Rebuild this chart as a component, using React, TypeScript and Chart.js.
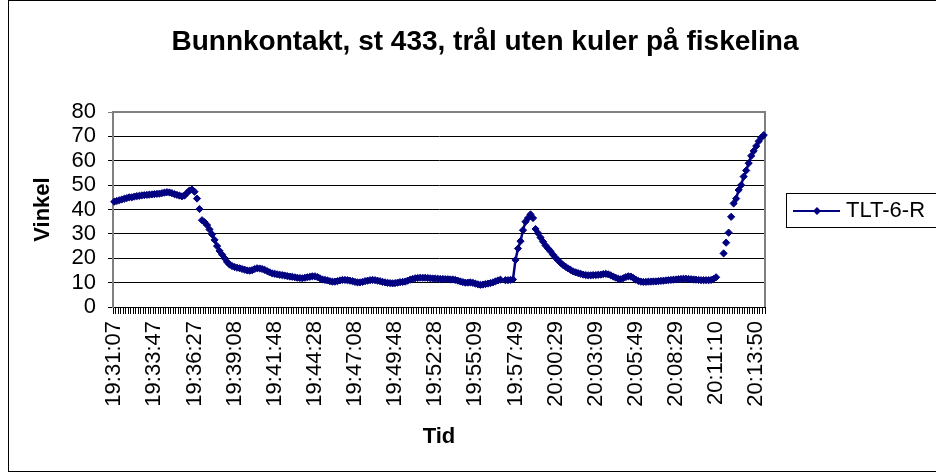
import React, { useEffect, useRef } from "react";
import { Chart, registerables } from "chart.js";

Chart.register(...registerables);

const TITLE = "Bunnkontakt, st 433, trål uten kuler på fiskelina";
const SERIES_NAME = "TLT-6-R";
const X_TITLE = "Tid";
const Y_TITLE = "Vinkel";

const tickLabels = [
  "19:31:07", "19:33:47", "19:36:27", "19:39:08", "19:41:48", "19:44:28",
  "19:47:08", "19:49:48", "19:52:28", "19:55:09", "19:57:49", "20:00:29",
  "20:03:09", "20:05:49", "20:08:29", "20:11:10", "20:13:50",
];
const LABEL_EVERY = 16;

const values: (number | null)[] = [
  43.2, 43.5, 43.8, 44.1, 44.4, 44.7, 45.0, 45.0, 45.3, 45.5,
  45.6, 45.8, 45.9, 46.0, 46.1, 46.2, 46.3, 46.4, 46.5, 46.7,
  46.9, 47.1, 47.0, 46.7, 46.3, 46.0, 45.7, 45.4, 45.7, 46.8,
  47.8, 48.2, 47.3, 44.5, 40.2, 35.6, 34.8, 33.6, 31.8, 29.8,
  27.5, 25.0, 23.0, 21.5, 20.0, 18.5, 17.4, 16.8, 16.4, 16.1,
  15.9, 15.6, 15.3, 15.0, 14.9, 15.1, 15.6, 15.9, 15.8, 15.6,
  15.2, 14.7, 14.2, 13.8, 13.6, 13.4, 13.2, 13.1, 12.9, 12.7,
  12.5, 12.4, 12.2, 12.0, 11.9, 11.8, 12.0, 12.2, 12.4, 12.6,
  12.6, 12.3, 11.8, 11.3, 11.1, 10.9, 10.6, 10.4, 10.4, 10.6,
  10.9, 11.1, 11.1, 11.0, 10.8, 10.6, 10.3, 10.1, 10.1, 10.3,
  10.6, 10.8, 11.0, 11.1, 11.0, 10.8, 10.6, 10.3, 10.1, 9.9,
  9.8, 9.7, 9.8, 10.0, 10.2, 10.3, 10.4, 10.8, 11.2, 11.5,
  11.8, 11.9, 12.0, 12.0, 12.0, 11.9, 11.8, 11.7, 11.7, 11.6,
  11.5, 11.5, 11.4, 11.4, 11.3, 11.3, 11.1, 10.8, 10.5, 10.2,
  10.0, 10.0, 10.1, 9.9, 9.6, 9.3, 9.1, 9.2, 9.4, 9.6,
  9.8, 10.1, 10.5, 10.9, 11.2, null, 11.0, 11.0, 11.1, 11.3,
  19.3, 24.0, 27.0, 31.5, 35.0, 36.5, 38.0, 36.5, 32.0, 30.3,
  28.5, 26.8, 25.2, 24.0, 22.8, 21.4, 20.2, 19.1, 18.1, 17.2,
  16.5, 15.8, 15.2, 14.6, 14.2, 13.9, 13.6, 13.3, 13.1, 13.0,
  13.0, 13.1, 13.1, 13.2, 13.3, 13.5, 13.6, 13.4, 13.0, 12.5,
  12.0, 11.6, 11.4, 11.8, 12.3, 12.6, 12.5, 11.9, 11.2, 10.7,
  10.4, 10.3, 10.3, 10.4, 10.4, 10.5, 10.5, 10.6, 10.7, 10.8,
  10.9, 11.0, 11.1, 11.2, 11.3, 11.4, 11.5, 11.6, 11.6, 11.5,
  11.4, 11.3, 11.2, 11.1, 11.0, 11.0, 11.0, 11.0, 11.1, 11.5,
  12.2, null, null, 22.0, 26.4, 30.5, 37.0, 42.5, 44.5, 48.0,
  50.0, 53.5, 56.0, 59.0, 62.0, 64.0, 66.0, 68.0, 69.5, 70.5,
];

// indices i where the segment i -> i+1 is not drawn (isolated markers)
const brokenAfter = [32, 33, 34, 167, 168, 243, 244, 245, 246];

const Y_MIN = 0;
const Y_MAX = 80;
const Y_STEP = 10;

const categories = values.map((_, i) =>
  i % LABEL_EVERY === 0 && tickLabels[i / LABEL_EVERY] ? tickLabels[i / LABEL_EVERY] : ""
);

const NAVY = "#000080";
const FONT = "'Liberation Sans', Arial, sans-serif";

export default function App() {
  const ref = useRef<HTMLCanvasElement | null>(null);

  useEffect(() => {
    if (!ref.current) return;
    const decor = {
      id: "decor",
      beforeDatasetsDraw(chart: any) {
        const { ctx, chartArea: a } = chart;
        ctx.save();
        ctx.strokeStyle = "#808080";
        ctx.lineWidth = 2;
        ctx.beginPath();
        ctx.moveTo(a.left, a.top);
        ctx.lineTo(a.right, a.top);
        ctx.lineTo(a.right, a.bottom);
        ctx.stroke();
        ctx.restore();
      },
      afterDraw(chart: any) {
        const { ctx } = chart;
        ctx.save();
        // outer chart border
        ctx.strokeStyle = "#000";
        ctx.lineWidth = 1;
        ctx.strokeRect(8.5, 0.5, 940, 471);
        // title
        ctx.fillStyle = "#000";
        ctx.font = `bold 28px ${FONT}`;
        ctx.textAlign = "center";
        ctx.textBaseline = "middle";
        ctx.fillText(TITLE, 485, 42);
        // legend
        ctx.strokeRect(786.5, 193.5, 160, 34);
        ctx.strokeStyle = NAVY;
        ctx.lineWidth = 2;
        ctx.beginPath();
        ctx.moveTo(793, 211);
        ctx.lineTo(840, 211);
        ctx.stroke();
        ctx.fillStyle = NAVY;
        ctx.beginPath();
        ctx.moveTo(817, 207);
        ctx.lineTo(821, 211);
        ctx.lineTo(817, 215);
        ctx.lineTo(813, 211);
        ctx.closePath();
        ctx.fill();
        ctx.fillStyle = "#000";
        ctx.font = `22px ${FONT}`;
        ctx.textAlign = "left";
        ctx.fillText(SERIES_NAME, 846, 211);
        ctx.restore();
      },
    };

    const chart = new Chart(ref.current, {
      type: "line",
      data: {
        labels: categories,
        datasets: [
          {
            label: SERIES_NAME,
            data: values,
            borderColor: NAVY,
            backgroundColor: NAVY,
            borderWidth: 2.5,
            pointStyle: "rectRot",
            pointRadius: 3.6,
            pointBorderWidth: 1,
            pointBackgroundColor: NAVY,
            pointBorderColor: NAVY,
            tension: 0,
            spanGaps: false,
            segment: {
              borderColor: (c: any) =>
                brokenAfter.includes(c.p0DataIndex) ? "rgba(0,0,0,0)" : NAVY,
            },
          },
        ],
      },
      options: {
        responsive: false,
        animation: false,
        layout: { padding: { left: 0, right: 171, top: 112, bottom: 0 } },
        plugins: {
          legend: { display: false },
          title: { display: false },
          tooltip: { enabled: false },
        },
        scales: {
          x: {
            type: "category",
            offset: true,
            grid: {
              display: true,
              drawOnChartArea: false,
              drawTicks: true,
              tickLength: 7,
              color: "#000",
              offset: true,
            },
            border: { display: true, color: "#000", width: 1 },
            ticks: {
              autoSkip: false,
              minRotation: 90,
              maxRotation: 90,
              padding: 7,
              color: "#000",
              font: { family: FONT, size: 22 },
              callback: (_v: any, i: number) => categories[i],
            },
            title: {
              display: true,
              text: X_TITLE,
              color: "#000",
              font: { family: FONT, size: 22, weight: "bold" },
              padding: { top: 0, bottom: 24 },
            },
            afterFit: (s: any) => {
              s.height = 167;
            },
          },
          y: {
            min: Y_MIN,
            max: Y_MAX,
            grid: {
              color: (c: any) => (c.tick && c.tick.value === Y_MAX ? "#808080" : "#000"),
              lineWidth: 1,
              tickLength: 5,
            },
            border: { display: true, color: "#808080", width: 2 },
            ticks: {
              stepSize: Y_STEP,
              autoSkip: false,
              padding: 12,
              color: "#000",
              font: { family: FONT, size: 22 },
            },
            title: {
              display: true,
              text: Y_TITLE,
              color: "#000",
              font: { family: FONT, size: 22, weight: "bold" },
              padding: { top: 30, bottom: 0 },
            },
            afterFit: (s: any) => {
              s.width = 113;
            },
          },
        },
      },
      plugins: [decor],
    });
    return () => chart.destroy();
  }, []);

  return (
    <div style={{ position: "fixed", left: 0, top: 0, width: 936, height: 474, background: "#fff" }}>
      <canvas ref={ref} width={936} height={474} />
    </div>
  );
}
